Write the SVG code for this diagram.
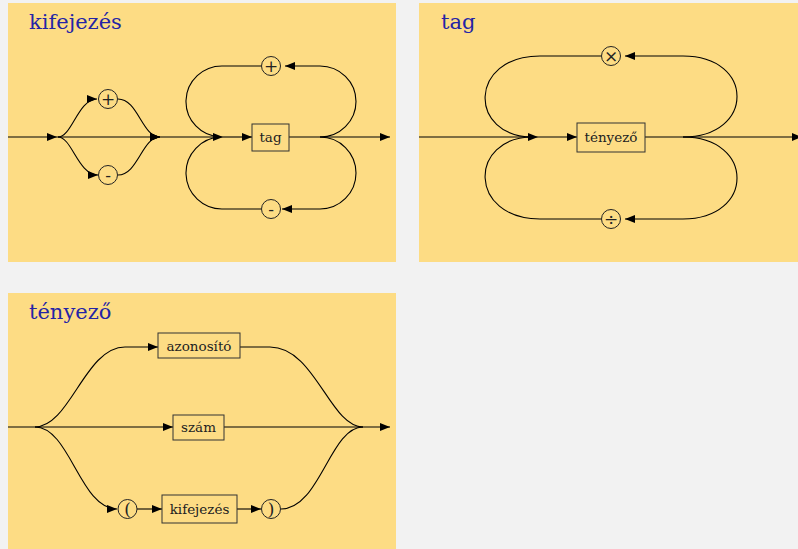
<svg xmlns="http://www.w3.org/2000/svg" width="798" height="549" viewBox="0 0 798 549">
<style>
.bg{fill:#f2f2f2}
.panel{fill:#fddc84}
.title{font-family:'DejaVu Serif',serif;font-size:21px;fill:#2424a6}
.lbl{font-family:'DejaVu Serif',serif;font-size:13.5px;fill:#222;text-anchor:middle}
.sym{font-family:'DejaVu Serif',serif;font-size:17px;fill:#222;text-anchor:middle}
.box{fill:none;stroke:#333;stroke-width:1}
.circ{fill:none;stroke:#222;stroke-width:1}
.ln{fill:none;stroke:#000;stroke-width:1.1}
.arr{marker-end:url(#ah)}
</style>
<defs>
<marker id="ah" markerUnits="userSpaceOnUse" markerWidth="10" markerHeight="8" refX="10" refY="4" orient="auto">
<path d="M0,0 L10,4 L0,8 z" fill="#000"/>
</marker>
</defs>
<rect class="bg" x="0" y="0" width="798" height="549"/>
<rect class="panel" x="8" y="3" width="388" height="259"/>
<rect class="panel" x="419" y="3" width="380" height="259"/>
<rect class="panel" x="8" y="293" width="388" height="257"/>
<text class="title" x="29" y="29">kifejezés</text>
<text class="title" x="441" y="29">tag</text>
<text class="title" x="29" y="319">tényező</text>

<g id="connectors">
<path class="ln arr" d="M8,137 L57,137"/>
<path class="ln arr" d="M57,137 L160,137"/>
<path class="ln arr" d="M58,137 C72,137 78,99 97,99"/>
<path class="ln arr" d="M118,99 C138,99 142,137 160,137"/>
<path class="ln arr" d="M58,137 C72,137 78,175 98,175"/>
<path class="ln arr" d="M118,175 C138,175 142,137 160,137"/>
<path class="ln arr" d="M160,137 L223,137"/>
<path class="ln arr" d="M223,137 L252,137"/>
<path class="ln arr" d="M289,137 L390,137"/>
<path class="ln" d="M320,137 A36 35.5 0 0 0 320,66"/>
<path class="ln arr" d="M320,66 L285,66"/>
<path class="ln" d="M261,66 L223,66 A36 35.5 0 0 0 221,137"/>
<path class="ln" d="M320,137 A36 36 0 0 1 320,209"/>
<path class="ln arr" d="M320,209 L282,209"/>
<path class="ln" d="M261,209 L223,209 A36 36 0 0 1 221,137"/>
<path class="ln arr" d="M419,137 L538,137"/>
<path class="ln arr" d="M538,137 L577,137"/>
<path class="ln arr" d="M645,137 L802,137"/>
<path class="ln" d="M601,56 L540,56 C468,56 468,137 533,137"/>
<path class="ln" d="M601,219 L540,219 C468,219 468,137 533,137"/>
<path class="ln arr" d="M683,137 C755,137 755,56 683,56 L625,56"/>
<path class="ln arr" d="M683,137 C755,137 755,219 683,219 L625,219"/>
<path class="ln arr" d="M8,427 L173,427"/>
<path class="ln arr" d="M224,427 L390,427"/>
<path class="ln arr" d="M35,427 C70,427 85,347 125,347 L158,347"/>
<path class="ln" d="M240,347 L270,347 C315,347 330,427 363,427"/>
<path class="ln arr" d="M35,427 C70,427 80,509 117,509"/>
<path class="ln arr" d="M137,509 L162,509"/>
<path class="ln arr" d="M237,509 L261,509"/>
<path class="ln" d="M281,509 C320,509 330,427 363,427"/>
</g>

<g id="n-plus1"><circle class="circ" cx="108" cy="99" r="9.5"/><text class="sym" x="108" y="105">+</text></g>
<g id="n-minus1"><circle class="circ" cx="108" cy="175" r="9.5"/><text class="sym" x="108" y="180.5">-</text></g>
<g id="n-tag"><rect class="box" x="252" y="124" width="37" height="27"/><text class="lbl" x="270.5" y="142">tag</text></g>
<g id="n-plus2"><circle class="circ" cx="271" cy="66" r="9.5"/><text class="sym" x="271" y="72">+</text></g>
<g id="n-minus2"><circle class="circ" cx="271" cy="209" r="9.5"/><text class="sym" x="271" y="214.5">-</text></g>

<g id="n-tenyezo"><rect class="box" x="577" y="123" width="68" height="29"/><text class="lbl" x="611" y="142">tényező</text></g>
<g id="n-times"><circle class="circ" cx="611" cy="56" r="9.5"/><text class="sym" x="611" y="62">×</text></g>
<g id="n-div"><circle class="circ" cx="611" cy="219" r="9.5"/><text class="sym" x="611" y="225">÷</text></g>

<g id="n-azonosito"><rect class="box" x="158" y="333" width="82" height="25"/><text class="lbl" x="199" y="350.5">azonosító</text></g>
<g id="n-szam"><rect class="box" x="173" y="415" width="51" height="25"/><text class="lbl" x="198.5" y="432">szám</text></g>
<g id="n-lpar"><circle class="circ" cx="127.5" cy="509" r="9.5"/><text class="sym" x="127.5" y="515">(</text></g>
<g id="n-kifejezes"><rect class="box" x="162" y="495" width="75" height="28"/><text class="lbl" x="199.5" y="513.5">kifejezés</text></g>
<g id="n-rpar"><circle class="circ" cx="271" cy="509" r="9.5"/><text class="sym" x="271" y="515">)</text></g>
</svg>
